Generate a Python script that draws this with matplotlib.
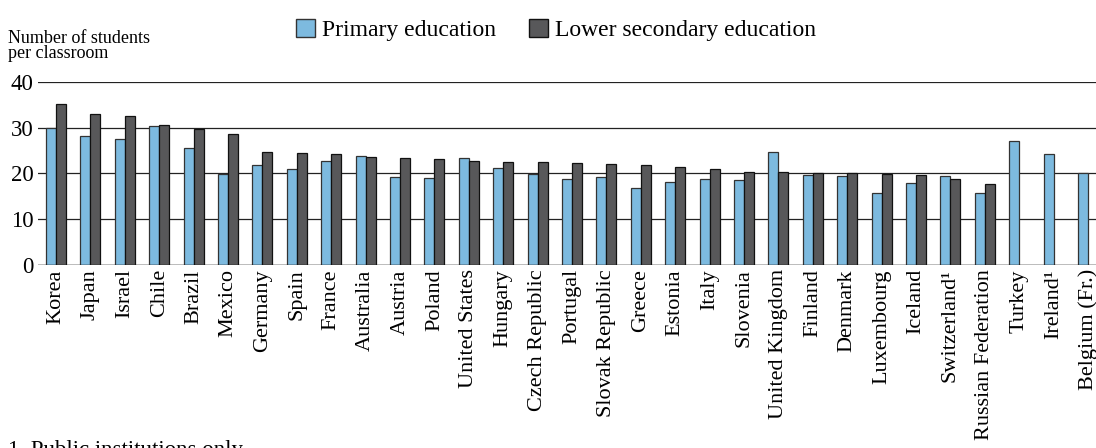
import matplotlib
matplotlib.use("Agg")
import matplotlib.pyplot as plt
import numpy as np
from matplotlib.patches import Patch

plt.rcParams['font.family'] = ['Liberation Serif', 'DejaVu Serif']

countries = ["Korea", "Japan", "Israel", "Chile", "Brazil", "Mexico", "Germany", "Spain",
             "France", "Australia", "Austria", "Poland", "United States", "Hungary",
             "Czech Republic", "Portugal", "Slovak Republic", "Greece", "Estonia", "Italy",
             "Slovenia", "United Kingdom", "Finland", "Denmark", "Luxembourg", "Iceland",
             "Switzerland¹", "Russian Federation", "Turkey", "Ireland¹", "Belgium (Fr.)"]
primary = [29.9, 28.1, 27.5, 30.3, 25.5, 19.8, 21.9, 20.9, 22.7, 23.8, 19.3, 19.0, 23.3, 21.2,
           19.9, 18.8, 19.3, 16.8, 18.2, 18.7, 18.5, 24.6, 19.7, 19.4, 15.7, 17.9, 19.4, 15.7,
           27.0, 24.3, 20.1]
lower_secondary = [35.2, 33.1, 32.5, 30.6, 29.8, 28.7, 24.7, 24.4, 24.3, 23.6, 23.3, 23.2, 22.8,
                   22.6, 22.5, 22.2, 22.0, 21.8, 21.4, 20.9, 20.4, 20.3, 20.0, 20.0, 19.9, 19.6,
                   18.9, 17.8, np.nan, np.nan, np.nan]

blue = '#7dbadf'
dark = '#58585a'

fig = plt.figure(figsize=(10.96, 4.48), dpi=100)
ax = fig.add_axes([0.0347, 0.4085, 0.9653, 0.4085])

x = np.arange(len(countries))
w = 0.29
ax.bar(x - w / 2, primary, w, color=blue, edgecolor='#333333', linewidth=0.9, zorder=3)
ax.bar(x + w / 2, lower_secondary, w, color=dark, edgecolor='#111111', linewidth=0.9, zorder=3)

ax.set_xlim(-0.52, 30.23)
ax.set_ylim(0, 40)
ax.set_yticks([0, 10, 20, 30, 40])
ax.yaxis.grid(True, color='#222222', linewidth=0.9, zorder=0)
for s in ax.spines.values():
    s.set_visible(False)
ax.axhline(0, color='#222222', linewidth=1.0, zorder=4)
ax.tick_params(axis='y', length=0, labelsize=16.5, pad=3)
ax.tick_params(axis='x', length=0, pad=3)
ax.set_xticks(x)
ax.set_xticklabels(countries, rotation=90, fontsize=16)

fig.text(0.007, 0.862, "Number of students\nper classroom", fontsize=13, va='bottom',
         ha='left', linespacing=0.82)

handles = [Patch(facecolor=blue, edgecolor='#333333', label='Primary education'),
           Patch(facecolor=dark, edgecolor='#111111', label='Lower secondary education')]
fig.legend(handles=handles, loc='upper left', bbox_to_anchor=(0.251, 1.005), ncol=2,
           frameon=False, fontsize=17, handlelength=0.8, handleheight=0.8,
           handletextpad=0.3, columnspacing=1.4)

fig.text(0.007, -0.03, "1. Public institutions only.", fontsize=16.5, va='bottom', ha='left')

fig.savefig("out.png", dpi=100)
